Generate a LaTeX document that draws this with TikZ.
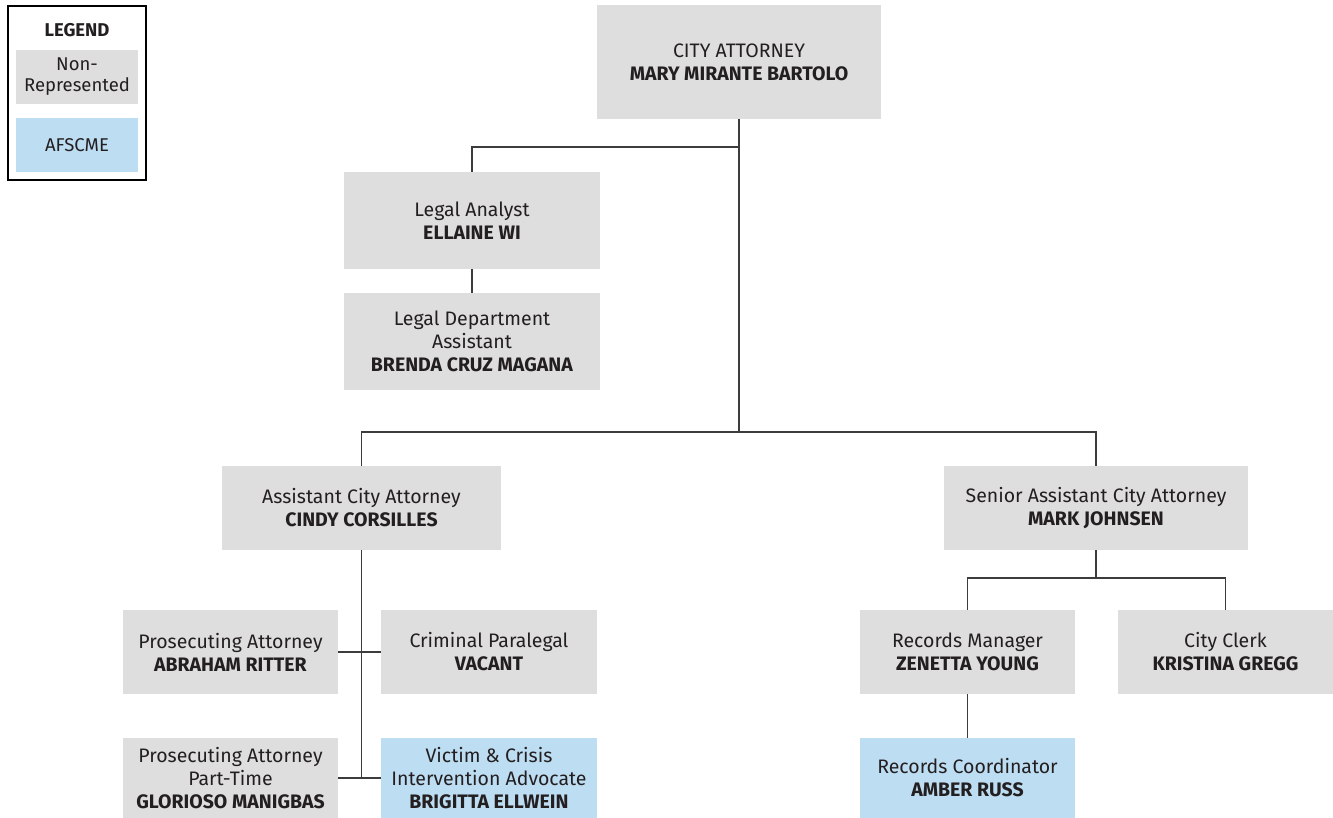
\documentclass[tikz,border=0pt]{standalone}
\usepackage{fontspec}
\setmainfont{Fira Sans}
\definecolor{staffgray}{HTML}{DEDEDF}
\definecolor{unionblue}{HTML}{BDDDF3}
\definecolor{inkdark}{HTML}{231F20}
\definecolor{linegray}{HTML}{3C3C3C}
\tikzset{
  staff node/.style={
    rectangle,
    fill=staffgray,
    text=inkdark,
    align=center,
    inner sep=0pt,
    font=\fontsize{19.5}{23}\selectfont,
  },
  union node/.style={
    staff node,
    fill=unionblue,
  },
  org line/.style={
    draw=linegray,
    line width=1.5pt,
  },
}

\begin{document}
\begin{tikzpicture}[x=1pt, y=-1pt]
        \useasboundingbox (0,0) rectangle (1333,818);

        \node[draw=black, line width=2pt, minimum width=138pt, minimum height=174pt] (legend) at (77,93) {};
        \node[text=inkdark, font=\fontsize{18.5}{23}\selectfont\bfseries] (legendtitle) at (77,30) {LEGEND};
        \node[staff node, font=\fontsize{18.5}{21}\selectfont, minimum width=122pt, minimum height=54pt] (nonrep) at (77,77) {Non-\\Represented};
        \node[union node, font=\fontsize{18.5}{21}\selectfont, minimum width=122pt, minimum height=54pt] (afscme) at (77,145) {AFSCME};

        \node[staff node, minimum width=284pt, minimum height=114pt] (ca)       at (739,62)    {CITY ATTORNEY\\\textbf{MARY MIRANTE BARTOLO}};
        \node[staff node, minimum width=256pt, minimum height=97pt]  (analyst)  at (472,220.5) {Legal Analyst\\\textbf{ELLAINE WI}};
        \node[staff node, minimum width=256pt, minimum height=97pt]  (deptasst) at (472,341.5) {Legal Department\\Assistant\\\textbf{BRENDA CRUZ MAGANA}};
        \node[staff node, minimum width=279pt, minimum height=84pt]  (aca)      at (361.5,508) {Assistant City Attorney\\\textbf{CINDY CORSILLES}};
        \node[staff node, minimum width=304pt, minimum height=84pt]  (saca)     at (1096,508)  {Senior Assistant City Attorney\\\textbf{MARK JOHNSEN}};
        \node[staff node, minimum width=215pt, minimum height=84pt]  (pros)     at (230.5,652) {Prosecuting Attorney\\\textbf{ABRAHAM RITTER}};
        \node[staff node, minimum width=216pt, minimum height=84pt]  (para)     at (489,652)   {Criminal Paralegal\\\textbf{VACANT}};
        \node[staff node, minimum width=215pt, minimum height=80pt]  (prospt)   at (230.5,778) {Prosecuting Attorney\\Part-Time\\\textbf{GLORIOSO MANIGBAS}};
        \node[union node, minimum width=216pt, minimum height=80pt]  (victim)   at (489,778)   {Victim \& Crisis\\Intervention Advocate\\\textbf{BRIGITTA ELLWEIN}};
        \node[staff node, minimum width=215pt, minimum height=84pt]  (recmgr)   at (967.5,652) {Records Manager\\\textbf{ZENETTA YOUNG}};
        \node[staff node, minimum width=215pt, minimum height=84pt]  (clerk)    at (1225.5,652) {City Clerk\\\textbf{KRISTINA GREGG}};
        \node[union node, minimum width=215pt, minimum height=80pt]  (reccoord) at (967.5,778) {Records Coordinator\\\textbf{AMBER RUSS}};

        \coordinate (top split)   at (739,147);
        \coordinate (mid split)   at (739,432);
        \coordinate (right split) at (1096,578);
        \coordinate (left end)    at (aca.south |- victim.west);

        \draw[org line] (ca.south) to (mid split);
        \draw[org line] (analyst.north) |- (top split);
        \draw[org line] (analyst) to (deptasst);
        \draw[org line] (aca.north) |- (mid split) -| (saca.north);

        \draw[org line] (aca.south) to (left end);
        \draw[org line] (pros.east) to (para.west);
        \draw[org line] (prospt.east) to (victim.west);

        \draw[org line] (saca.south) to (right split);
        \draw[org line] (recmgr.north) |- (right split) -| (clerk.north);
        \draw[org line] (recmgr) to (reccoord);
      \end{tikzpicture}
\end{document}
